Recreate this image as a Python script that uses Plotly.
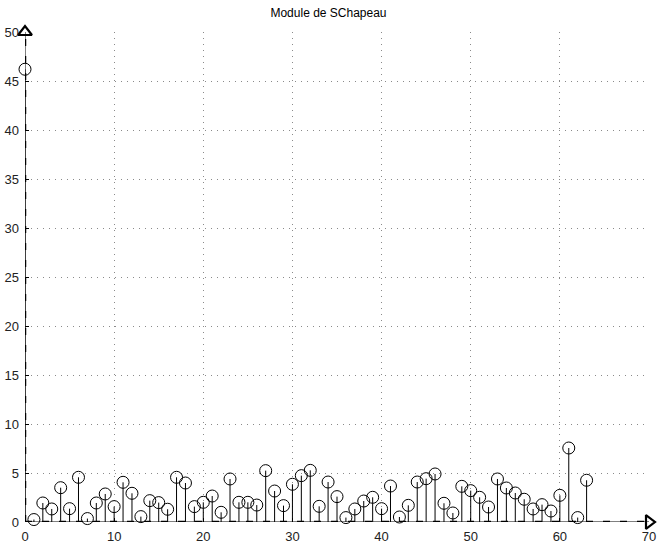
import plotly.graph_objects as go

# Magnitude of the spectrum, one value per frequency index k
k = list(range(64))
module = [
    46.2, 0.25, 1.94, 1.33, 3.50, 1.36, 4.56, 0.35, 1.94, 2.86,
    1.57, 4.05, 2.93, 0.55, 2.18, 1.98, 1.30, 4.56, 3.98, 1.57,
    2.01, 2.65, 0.99, 4.39, 2.01, 2.01, 1.73, 5.24, 3.16, 1.67,
    3.85, 4.73, 5.27, 1.60, 4.08, 2.59, 0.45, 1.33, 2.14, 2.52,
    1.36, 3.67, 0.51, 1.70, 4.08, 4.42, 4.90, 1.91, 0.92, 3.64,
    3.20, 2.52, 1.53, 4.39, 3.47, 2.96, 2.32, 1.33, 1.77, 1.12,
    2.72, 7.55, 0.45, 4.26,
]
title = "Module de SChapeau"
x_max, y_max = 70, 50
x_ticks = [0, 10, 20, 30, 40, 50, 60, 70]
y_ticks = [0, 5, 10, 15, 20, 25, 30, 35, 40, 45, 50]

# Vertical stems as one broken polyline
stem_x, stem_y = [], []
for xi, yi in zip(k, module):
    stem_x += [xi, xi, None]
    stem_y += [0, yi, None]

fig = go.Figure()

# Thin solid axis lines
fig.add_trace(go.Scatter(x=[0, x_max], y=[0, 0], mode="lines",
                         line=dict(color="black", width=1), hoverinfo="skip"))
fig.add_trace(go.Scatter(x=[0, 0], y=[0, y_max], mode="lines",
                         line=dict(color="black", width=1), hoverinfo="skip"))

# Stems
fig.add_trace(go.Scatter(x=stem_x, y=stem_y, mode="lines",
                         line=dict(color="black", width=1), hoverinfo="skip"))

# Thick dashed axis arrows
fig.add_trace(go.Scatter(x=[0, x_max], y=[0, 0], mode="lines",
                         line=dict(color="black", width=2.5, dash="7px,10px"),
                         hoverinfo="skip"))
fig.add_trace(go.Scatter(x=[0, 0], y=[0, y_max], mode="lines",
                         line=dict(color="black", width=2.5, dash="7px,10px"),
                         hoverinfo="skip"))
fig.add_trace(go.Scatter(x=[x_max], y=[0], mode="markers",
                         marker=dict(symbol="triangle-right-open", size=12,
                                     color="black", line=dict(width=2.2)),
                         hoverinfo="skip"))
fig.add_trace(go.Scatter(x=[0], y=[y_max], mode="markers",
                         marker=dict(symbol="triangle-up-open", size=12,
                                     color="black", line=dict(width=2.2)),
                         hoverinfo="skip"))

# Circle heads
fig.add_trace(go.Scatter(x=k, y=module, mode="markers",
                         marker=dict(symbol="circle-open", size=12, color="black",
                                     line=dict(width=1)),
                         hovertemplate="k=%{x}<br>%{y:.2f}<extra></extra>"))

fig.update_traces(cliponaxis=False)

axis_common = dict(
    showgrid=True, gridcolor="#8a8a8a", griddash="1px,5px", gridwidth=1,
    zeroline=False, showline=False, ticks="inside", ticklen=4,
    tickcolor="black", automargin=False,
    tickfont=dict(family="Liberation Sans, Arial", size=13, color="#222222"),
)
fig.update_xaxes(range=[0, x_max], tickvals=x_ticks, ticklabelstandoff=5,
                 **axis_common)
fig.update_yaxes(range=[0, y_max], tickvals=y_ticks, ticklabelstandoff=5,
                 **axis_common)

fig.update_layout(
    width=657, height=545,
    margin=dict(l=25, r=8, t=32, b=23),
    paper_bgcolor="white", plot_bgcolor="white",
    showlegend=False,
    title=dict(text=title, x=0.5, xanchor="center", y=0.985, yanchor="top",
               font=dict(family="Liberation Sans, Arial", size=12, color="black")),
)

fig.write_html("out.html")
